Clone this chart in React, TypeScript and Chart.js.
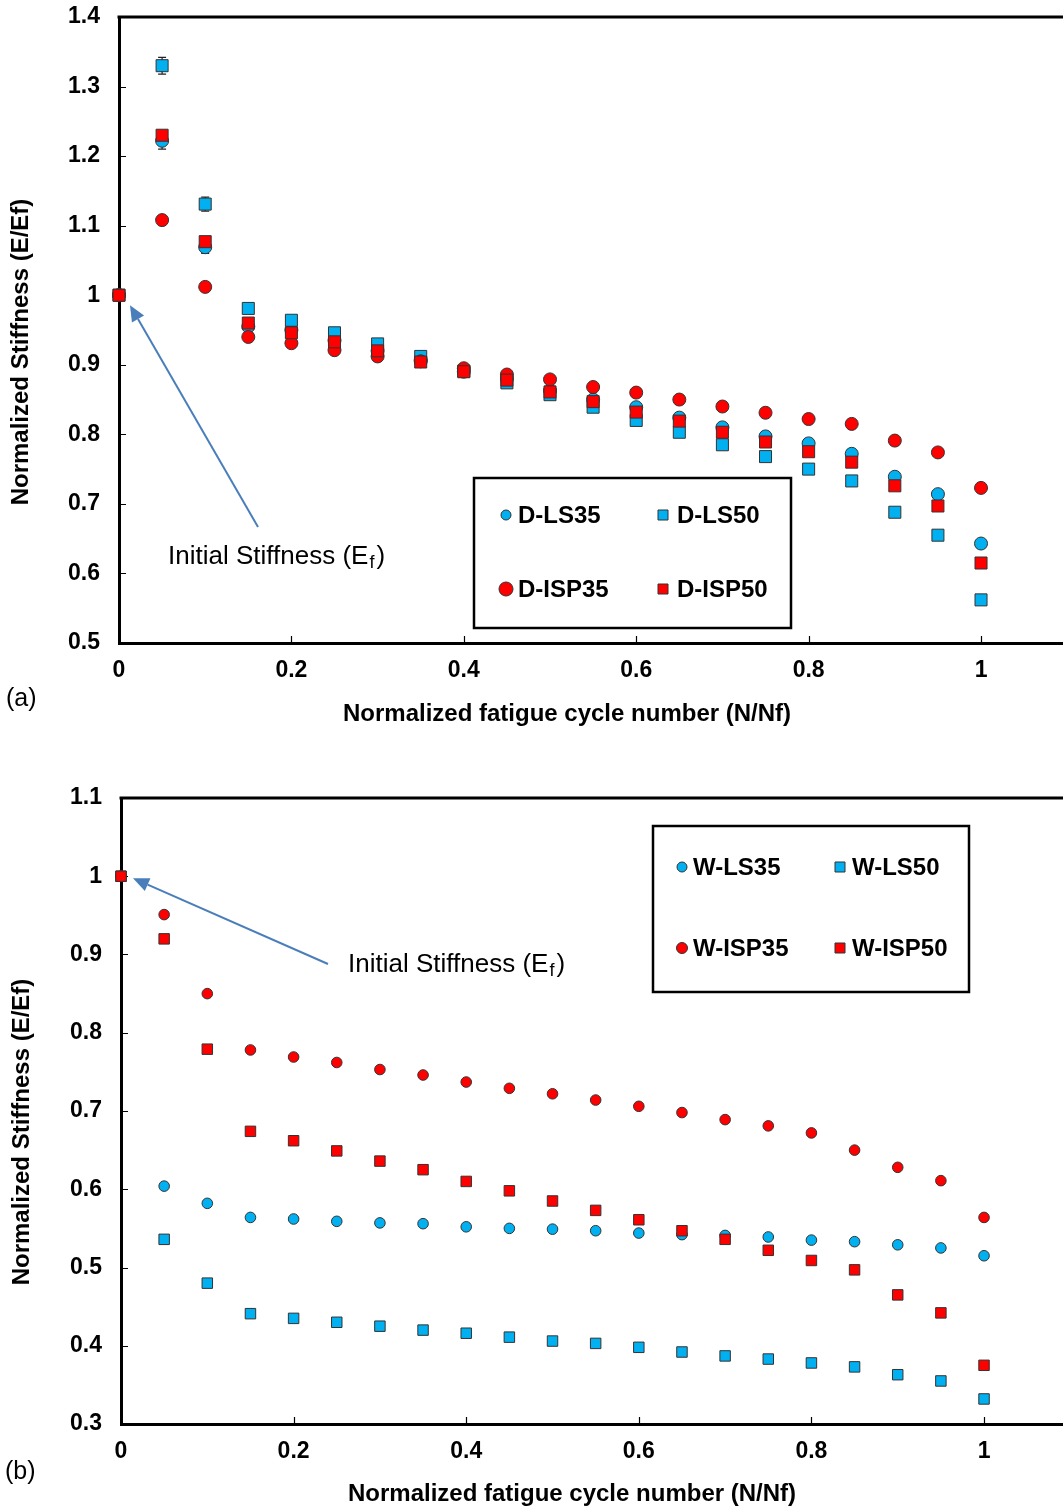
import React, { useEffect, useRef } from 'react';
import { Chart, registerables } from 'chart.js';

Chart.register(...registerables);

// ---------- data ----------
const cycles = [0, 0.05, 0.1, 0.15, 0.2, 0.25, 0.3, 0.35, 0.4, 0.45, 0.5, 0.55, 0.6, 0.65, 0.7, 0.75, 0.8, 0.85, 0.9, 0.95, 1];

const dLS35 = [1.0, 1.222, 1.069, 0.955, 0.95, 0.935, 0.92, 0.907, 0.89, 0.88, 0.863, 0.85, 0.839, 0.824, 0.81, 0.797, 0.787, 0.772, 0.739, 0.714, 0.643];
const dLS50 = [1.0, 1.33, 1.131, 0.981, 0.964, 0.946, 0.93, 0.912, 0.891, 0.874, 0.857, 0.839, 0.82, 0.803, 0.785, 0.768, 0.75, 0.733, 0.688, 0.655, 0.562];
const dISP35 = [1.0, 1.108, 1.012, 0.94, 0.931, 0.921, 0.912, 0.905, 0.895, 0.886, 0.879, 0.868, 0.86, 0.85, 0.84, 0.831, 0.822, 0.815, 0.791, 0.774, 0.723];
const dISP50 = [1.0, 1.23, 1.077, 0.96, 0.946, 0.933, 0.92, 0.904, 0.89, 0.878, 0.861, 0.847, 0.832, 0.819, 0.803, 0.789, 0.775, 0.76, 0.726, 0.697, 0.615];

// small error bars (±) visible on the D-LS series at early cycles
const dLS35Err = [0, 0.012, 0.009, 0, 0, 0, 0, 0, 0, 0, 0, 0, 0, 0, 0, 0, 0, 0, 0, 0, 0];
const dLS50Err = [0, 0.012, 0.01, 0, 0, 0, 0, 0, 0, 0, 0, 0, 0, 0, 0, 0, 0, 0, 0, 0, 0];

const wLS35 = [1.0, 0.604, 0.582, 0.564, 0.562, 0.559, 0.557, 0.556, 0.552, 0.55, 0.549, 0.547, 0.544, 0.542, 0.541, 0.539, 0.535, 0.533, 0.529, 0.525, 0.515];
const wLS50 = [1.0, 0.536, 0.48, 0.441, 0.435, 0.43, 0.425, 0.42, 0.416, 0.411, 0.406, 0.403, 0.398, 0.392, 0.387, 0.383, 0.378, 0.373, 0.363, 0.355, 0.332];
const wISP35 = [1.0, 0.951, 0.85, 0.778, 0.769, 0.762, 0.753, 0.746, 0.737, 0.729, 0.722, 0.714, 0.706, 0.698, 0.689, 0.681, 0.672, 0.65, 0.628, 0.611, 0.564];
const wISP50 = [1.0, 0.92, 0.779, 0.674, 0.662, 0.649, 0.636, 0.625, 0.61, 0.598, 0.585, 0.573, 0.561, 0.547, 0.536, 0.522, 0.509, 0.497, 0.465, 0.442, 0.375];

const labelsA = ['D-LS35', 'D-LS50', 'D-ISP35', 'D-ISP50'];
const labelsB = ['W-LS35', 'W-LS50', 'W-ISP35', 'W-ISP50'];

const xTicks = [0, 0.2, 0.4, 0.6, 0.8, 1];
const yTicksA = [0.5, 0.6, 0.7, 0.8, 0.9, 1.0, 1.1, 1.2, 1.3, 1.4];
const yTicksB = [0.3, 0.4, 0.5, 0.6, 0.7, 0.8, 0.9, 1.0, 1.1];

const xTitle = 'Normalized fatigue cycle number (N/Nf)';
const yTitle = 'Normalized Stiffness (E/Ef)';
const noteMain = 'Initial Stiffness (E';
const noteSub = 'f';
const noteEnd = ')';
const panelA = '(a)';
const panelB = '(b)';

// ---------- styles ----------
const FONT = 'Arial, "Liberation Sans", sans-serif';
const BLUE = '#00B0F0';
const RED = '#FF0000';
const EDGE = '#333333';
const ARROW = '#4A7EBB';

const fmt = (v: any) => String(Math.round(Number(v) * 10) / 10);

function makeDecor(cfg: any) {
  return {
    id: 'decor',
    beforeDatasetsDraw(chart: any) {
      const { ctx, chartArea, scales } = chart;
      ctx.save();
      ctx.strokeStyle = '#000';
      ctx.lineWidth = 3;
      ctx.beginPath();
      ctx.moveTo(chartArea.left - 1.5, chartArea.top);
      ctx.lineTo(chartArea.right, chartArea.top);
      ctx.stroke();
      ctx.lineWidth = 1.2;
      ctx.beginPath();
      cfg.yTicks.forEach((v: number) => {
        const y = Math.round(scales.y.getPixelForValue(v)) + 0.5;
        ctx.moveTo(chartArea.left, y);
        ctx.lineTo(chartArea.left + 7, y);
      });
      cfg.xTicks.forEach((v: number) => {
        const x = Math.round(scales.x.getPixelForValue(v)) + 0.5;
        ctx.moveTo(x, chartArea.bottom);
        ctx.lineTo(x, chartArea.bottom - 7);
      });
      ctx.stroke();
      // error bars
      ctx.strokeStyle = '#222';
      ctx.lineWidth = 1.2;
      chart.data.datasets.forEach((ds: any) => {
        if (!ds.errors) return;
        ds.data.forEach((pt: any, i: number) => {
          const e = ds.errors[i];
          if (!e) return;
          const x = scales.x.getPixelForValue(pt.x);
          const y1 = scales.y.getPixelForValue(pt.y - e);
          const y2 = scales.y.getPixelForValue(pt.y + e);
          ctx.beginPath();
          ctx.moveTo(x, y1);
          ctx.lineTo(x, y2);
          ctx.moveTo(x - 4, y1);
          ctx.lineTo(x + 4, y1);
          ctx.moveTo(x - 4, y2);
          ctx.lineTo(x + 4, y2);
          ctx.stroke();
        });
      });
      ctx.restore();
    },
    afterDraw(chart: any) {
      const { ctx, scales } = chart;
      ctx.save();
      ctx.fillStyle = '#000';
      // axis titles
      ctx.font = `bold 24px ${FONT}`;
      ctx.textAlign = 'center';
      ctx.textBaseline = 'middle';
      ctx.fillText(xTitle, cfg.xTitlePos[0], cfg.xTitlePos[1]);
      ctx.save();
      ctx.translate(cfg.yTitlePos[0], cfg.yTitlePos[1]);
      ctx.rotate(-Math.PI / 2);
      ctx.fillText(yTitle, 0, 0);
      ctx.restore();
      // panel label
      ctx.font = `25px ${FONT}`;
      ctx.textAlign = 'left';
      ctx.fillText(cfg.panel, cfg.panelPos[0], cfg.panelPos[1]);

      // legend
      const b = cfg.legendBox;
      ctx.fillStyle = '#fff';
      ctx.fillRect(b[0], b[1], b[2] - b[0], b[3] - b[1]);
      ctx.strokeStyle = '#000';
      ctx.lineWidth = 2.5;
      ctx.strokeRect(b[0], b[1], b[2] - b[0], b[3] - b[1]);
      ctx.font = `bold 24px ${FONT}`;
      ctx.textBaseline = 'middle';
      chart.data.datasets.forEach((ds: any, i: number) => {
        const col = i % 2;
        const row = Math.floor(i / 2);
        const mx = cfg.legendMarkerX[col];
        const tx = cfg.legendTextX[col];
        const my = cfg.legendRowY[row];
        const size = cfg.legendMarkerSize[i];
        ctx.fillStyle = ds.backgroundColor;
        ctx.strokeStyle = EDGE;
        ctx.lineWidth = 1;
        ctx.beginPath();
        if (ds.pointStyle === 'circle') {
          ctx.arc(mx, my, size, 0, Math.PI * 2);
        } else {
          ctx.rect(mx - size, my - size, size * 2, size * 2);
        }
        ctx.fill();
        ctx.stroke();
        ctx.fillStyle = '#000';
        ctx.fillText(ds.label, tx, my + 1);
      });

      // annotation arrow
      const tipX = scales.x.getPixelForValue(0) + cfg.tipOffset[0];
      const tipY = scales.y.getPixelForValue(1) + cfg.tipOffset[1];
      const [tx0, ty0] = cfg.tail;
      const ang = Math.atan2(tipY - ty0, tipX - tx0);
      const headLen = 16;
      const headW = 7;
      const bx = tipX - headLen * Math.cos(ang);
      const by = tipY - headLen * Math.sin(ang);
      ctx.strokeStyle = ARROW;
      ctx.fillStyle = ARROW;
      ctx.lineWidth = 2;
      ctx.beginPath();
      ctx.moveTo(tx0, ty0);
      ctx.lineTo(bx, by);
      ctx.stroke();
      ctx.beginPath();
      ctx.moveTo(tipX, tipY);
      ctx.lineTo(bx + headW * Math.sin(ang), by - headW * Math.cos(ang));
      ctx.lineTo(bx - headW * Math.sin(ang), by + headW * Math.cos(ang));
      ctx.closePath();
      ctx.fill();

      // annotation text
      ctx.fillStyle = '#000';
      ctx.textBaseline = 'alphabetic';
      ctx.textAlign = 'left';
      ctx.font = `26px ${FONT}`;
      let x = cfg.notePos[0];
      const y = cfg.notePos[1];
      ctx.fillText(noteMain, x, y);
      x += ctx.measureText(noteMain).width;
      ctx.font = `18px ${FONT}`;
      ctx.fillText(noteSub, x + 1, y + 4);
      x += ctx.measureText(noteSub).width + 3;
      ctx.font = `26px ${FONT}`;
      ctx.fillText(noteEnd, x, y);
      ctx.restore();
    },
  };
}

function makeDataset(label: string, values: number[], color: string, style: string, r: number, order: number, errors?: number[]) {
  return {
    label,
    data: cycles.map((c, i) => ({ x: c, y: values[i] })),
    errors,
    backgroundColor: color,
    borderColor: EDGE,
    borderWidth: 1,
    pointStyle: style,
    pointRadius: r,
    pointHoverRadius: r,
    showLine: false,
    clip: false,
    order,
  };
}

function makeConfig(p: any) {
  return {
    type: 'scatter',
    data: { datasets: p.datasets },
    options: {
      responsive: false,
      animation: false,
      events: [],
      layout: { autoPadding: false, padding: { left: 0, right: 0, top: p.top, bottom: 0 } },
      plugins: { legend: { display: false }, tooltip: { enabled: false }, title: { display: false } },
      scales: {
        x: {
          type: 'linear',
          min: 0,
          max: p.xMax,
          afterBuildTicks: (s: any) => { s.ticks = xTicks.map((v) => ({ value: v })); },
          afterFit: (s: any) => { s.height = p.xAxisH; s.paddingLeft = 0; s.paddingRight = 0; s.paddingTop = 0; s.paddingBottom = 0; },
          grid: { display: false, drawTicks: false },
          border: { display: true, color: '#000', width: 3 },
          ticks: { color: '#000', font: { family: FONT, size: 23, weight: 'bold' }, padding: 14, maxRotation: 0, autoSkip: false, callback: fmt },
        },
        y: {
          type: 'linear',
          min: p.yMin,
          max: p.yMax,
          afterBuildTicks: (s: any) => { s.ticks = p.yTicks.map((v: number) => ({ value: v })); },
          afterFit: (s: any) => { s.width = p.yAxisW; s.paddingLeft = 0; s.paddingRight = 0; s.paddingTop = 0; s.paddingBottom = 0; },
          grid: { display: false, drawTicks: false },
          border: { display: true, color: '#000', width: 3 },
          ticks: { color: '#000', font: { family: FONT, size: 23, weight: 'bold' }, padding: 19, autoSkip: false, callback: fmt },
        },
      },
    },
    plugins: [makeDecor(p.decor)],
  };
}

function ChartCanvas({ config, width, height, top }: any) {
  const ref = useRef<HTMLCanvasElement>(null);
  useEffect(() => {
    if (!ref.current) return;
    const chart = new Chart(ref.current, config);
    return () => chart.destroy();
  }, []);
  return (
    <canvas
      ref={ref}
      width={width}
      height={height}
      style={{ position: 'absolute', left: 0, top, width, height, display: 'block' }}
    />
  );
}

export default function App() {
  const configA = makeConfig({
    datasets: [
      makeDataset(labelsA[0], dLS35, BLUE, 'circle', 6.5, 4, dLS35Err),
      makeDataset(labelsA[1], dLS50, BLUE, 'rect', 8.5, 3, dLS50Err),
      makeDataset(labelsA[2], dISP35, RED, 'circle', 6.5, 2),
      makeDataset(labelsA[3], dISP50, RED, 'rect', 8.5, 1),
    ],
    top: 17,
    xMax: 1.0951,
    xAxisH: 97,
    yAxisW: 119,
    yMin: 0.5,
    yMax: 1.4,
    yTicks: yTicksA,
    decor: {
      xTicks,
      yTicks: yTicksA,
      xTitlePos: [567, 714],
      yTitlePos: [21, 352],
      panel: panelA,
      panelPos: [6, 699],
      legendBox: [474, 478, 791, 628],
      legendMarkerX: [506, 663],
      legendTextX: [518, 677],
      legendRowY: [515, 589],
      legendMarkerSize: [5, 5, 7, 5],
      tipOffset: [11, 10],
      tail: [258, 527],
      notePos: [168, 564],
    },
  });

  const configB = makeConfig({
    datasets: [
      makeDataset(labelsB[0], wLS35, BLUE, 'circle', 5.3, 4),
      makeDataset(labelsB[1], wLS50, BLUE, 'rect', 7.4, 3),
      makeDataset(labelsB[2], wISP35, RED, 'circle', 5.3, 2),
      makeDataset(labelsB[3], wISP50, RED, 'rect', 7.4, 1),
    ],
    top: 58,
    xMax: 1.0915,
    xAxisH: 87,
    yAxisW: 121,
    yMin: 0.3,
    yMax: 1.1,
    yTicks: yTicksB,
    decor: {
      xTicks,
      yTicks: yTicksB,
      xTitlePos: [572, 754],
      yTitlePos: [22, 392],
      panel: panelB,
      panelPos: [5, 732],
      legendBox: [653, 86, 969, 252],
      legendMarkerX: [682, 840],
      legendTextX: [693, 852],
      legendRowY: [127, 208],
      legendMarkerSize: [5, 5, 5.5, 5],
      tipOffset: [12, 2],
      tail: [328, 224],
      notePos: [348, 232],
    },
  });

  return (
    <div style={{ position: 'absolute', left: 0, top: 0, width: 1063, height: 1511, overflow: 'hidden', background: '#fff' }}>
      <ChartCanvas config={configA} width={1063} height={740} top={0} />
      <ChartCanvas config={configB} width={1063} height={771} top={740} />
    </div>
  );
}
